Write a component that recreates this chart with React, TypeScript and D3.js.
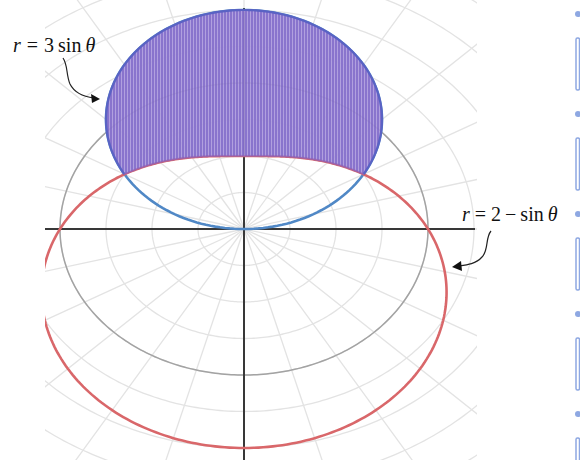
import React from 'react';
import * as d3 from 'd3';

// Polar curves shown: r = 3 sin θ (circle), r = 2 − sin θ (limaçon), reference circle r = 2
const circleCoef = 3;
const limaconConst = 2;
const referenceRadius = 2;
// Region where 3 sin θ ≥ 2 − sin θ : θ ∈ [30°, 150°]
const regionDegrees = [30, 150];
// Polar grid
const gridRadii = [0.5, 1, 1.5, 2, 2.5, 3, 3.5, 4];
const spokeDegrees = [0, 15, 30, 45, 60, 75, 90, 105, 120, 135, 150, 165, 180, 195, 210, 225, 240, 255, 270, 285, 300, 315, 330, 345];
// Side panel markers (cut-off UI at the right edge)
const sideDots = [0, 1, 2, 3, 4];

const W = 580;
const H = 460;

const rad = (d: number) => (d * Math.PI) / 180;

export default function App() {
  const x = d3.scaleLinear().domain([-2, 2]).range([60, 428]);
  const y = d3.scaleLinear().domain([-3, 3]).range([448, 10]);

  const polar = (r: number, deg: number): [number, number] => [
    x(r * Math.cos(rad(deg))),
    y(r * Math.sin(rad(deg))),
  ];

  const line = d3.line<[number, number]>().x((d) => d[0]).y((d) => d[1]).curve(d3.curveLinear);

  const full = d3.range(0, 360.01, 1);
  const circlePts = full.map((t) => polar(circleCoef * Math.sin(rad(t)), t));
  const limaconPts = full.map((t) => polar(limaconConst - Math.sin(rad(t)), t));
  const refPts = full.map((t) => polar(referenceRadius, t));

  const regionT = d3.range(regionDegrees[0], regionDegrees[1] + 0.01, 0.5);
  const outer = regionT.map((t) => polar(circleCoef * Math.sin(rad(t)), t));
  const inner = regionT.slice().reverse().map((t) => polar(limaconConst - Math.sin(rad(t)), t));
  const regionPath = line([...outer, ...inner]) + 'Z';
  const innerEdge = line(regionT.map((t) => polar(limaconConst - Math.sin(rad(t)), t)));
  const outerEdge = line(outer);

  const x0 = d3.min(outer, (d) => d[0]) as number;
  const x1 = d3.max(outer, (d) => d[0]) as number;
  const hatchX = d3.range(Math.floor(x0) - 1, x1 + 2, 3);

  const clipX0 = 45;
  const clipX1 = 477;
  const ox = x(0);
  const oy = y(0);

  const mathFont = "'Liberation Serif', 'DejaVu Serif', serif";

  return (
    <svg width={W} height={H} style={{ position: 'absolute', left: 0, top: 0, background: '#fff' }}>
      <defs>
        <clipPath id="plotClip">
          <rect x={clipX0} y={0} width={clipX1 - clipX0} height={H} />
        </clipPath>
        <clipPath id="regionClip">
          <path d={regionPath} />
        </clipPath>
      </defs>

      <g clipPath="url(#plotClip)">
        {/* grid arcs */}
        {gridRadii.map((r) => (
          <path key={'g' + r} d={line(full.map((t) => polar(r, t))) || ''} fill="none" stroke="#e3e3e3" strokeWidth={1.3} />
        ))}
        {/* grid spokes */}
        {spokeDegrees.map((dg) => {
          const [ex, ey] = polar(gridRadii[gridRadii.length - 1] + 0.5, dg);
          return <line key={'s' + dg} x1={ox} y1={oy} x2={ex} y2={ey} stroke="#e3e3e3" strokeWidth={1.3} />;
        })}
        {/* reference circle r = 2 */}
        <path d={line(refPts) || ''} fill="none" stroke="#a3a3a3" strokeWidth={1.5} />
        {/* axes */}
        <line x1={clipX0} x2={clipX1 - 2} y1={oy} y2={oy} stroke="#383838" strokeWidth={2} />
        <line x1={ox} x2={ox} y1={8} y2={H} stroke="#383838" strokeWidth={2} />
        {/* curves */}
        <path d={line(circlePts) || ''} fill="none" stroke="#5088c6" strokeWidth={2.6} />
        <path d={line(limaconPts) || ''} fill="none" stroke="#d9676a" strokeWidth={2.6} />
        {/* shaded region */}
        <g clipPath="url(#regionClip)">
          <path d={regionPath} fill="#a896dc" opacity={0.9} />
          {hatchX.map((hx) => (
            <line key={'h' + hx} x1={hx} x2={hx} y1={0} y2={H} stroke="#7158c0" strokeWidth={1.5} opacity={0.8} />
          ))}
        </g>
        <path d={outerEdge || ''} fill="none" stroke="#5a62c4" strokeWidth={2.2} />
        <path d={innerEdge || ''} fill="none" stroke="#9460b0" strokeWidth={1.6} opacity={0.75} />
      </g>

      {/* annotations */}
      <text x={13} y={52} fontFamily={mathFont} fontSize={20} fill="#111">
        <tspan fontStyle="italic">r</tspan>
        <tspan dx={6}>=</tspan>
        <tspan dx={6}>3</tspan>
        <tspan dx={4}>sin</tspan>
        <tspan dx={4} fontStyle="italic">θ</tspan>
      </text>
      <path d="M63,58 C68,65 66,75 70,84 C75,94 86,97 94,98" fill="none" stroke="#222" strokeWidth={1.2} />
      <path d="M100,99 L91,94 L92,103 Z" fill="#111" />

      <text x={462} y={221} fontFamily={mathFont} fontSize={20} fill="#111">
        <tspan fontStyle="italic">r</tspan>
        <tspan dx={5}>=</tspan>
        <tspan dx={5}>2</tspan>
        <tspan dx={4}>−</tspan>
        <tspan dx={4}>sin</tspan>
        <tspan dx={4} fontStyle="italic">θ</tspan>
      </text>
      <path d="M491,231 C485,238 489,250 482,257 C476,264 467,265 459,266" fill="none" stroke="#222" strokeWidth={1.2} />
      <path d="M452,267 L461,261 L462,271 Z" fill="#111" />

      {/* side panel */}
      {sideDots.map((i) => (
        <g key={'d' + i}>
          <circle cx={578} cy={14 + i * 100} r={3} fill="#8ea8e2" />
          <rect x={576} y={38 + i * 100} width={3.5} height={52} rx={1.5} fill="none" stroke="#8ea8e2" strokeWidth={1.5} />
        </g>
      ))}
    </svg>
  );
}
